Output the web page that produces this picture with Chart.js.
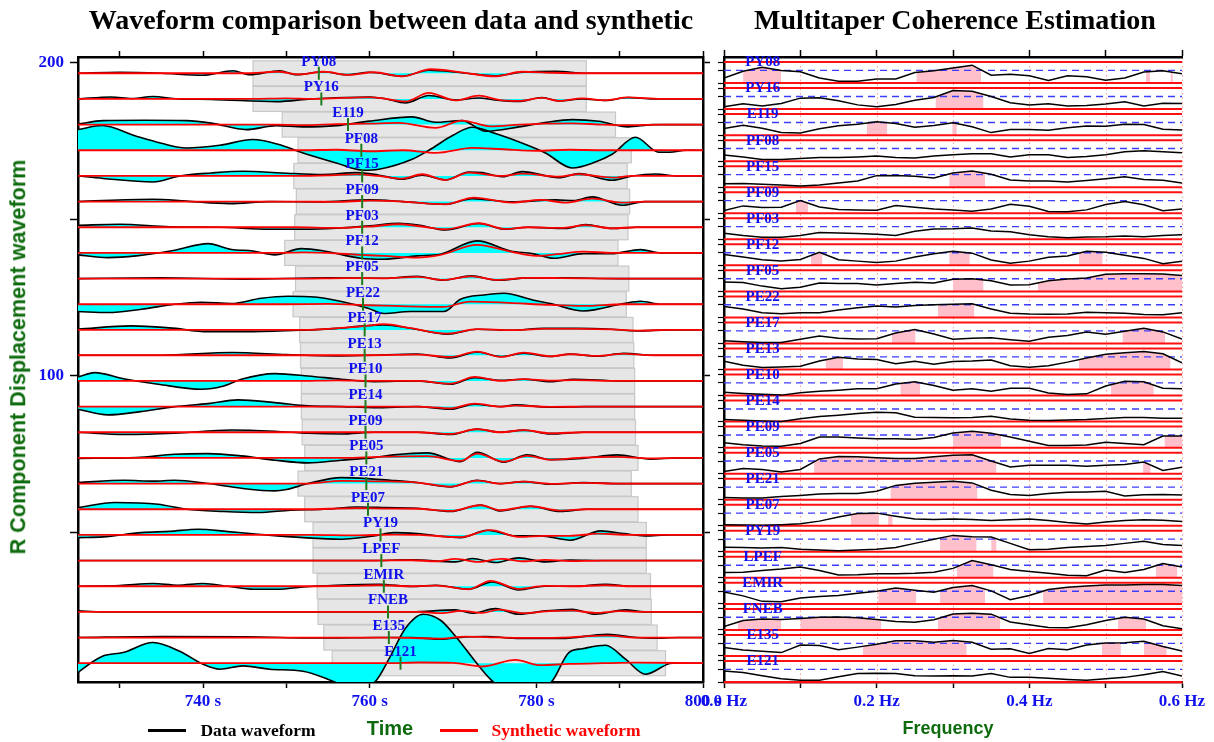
<!DOCTYPE html>
<html><head><meta charset="utf-8">
<script src="https://cdn.jsdelivr.net/npm/chart.js@4.4.1/dist/chart.umd.min.js"></script>
<style>
html,body{margin:0;padding:0;background:#fff;width:1214px;height:742px;overflow:hidden;position:relative}
canvas{position:absolute;left:0;top:0}
.t{position:absolute;white-space:nowrap;line-height:1;transform:translate(-50%,-50%)}
.serif{font-family:"Liberation Serif",serif;font-weight:bold}
.sans{font-family:"Liberation Sans",sans-serif;font-weight:bold}
.lg{position:absolute;height:0}
</style></head><body>
<canvas id="cL" width="1214" height="742"></canvas>
<canvas id="cR" width="1214" height="742"></canvas>
<div class="t serif" style="left:391px;top:20px;font-size:28px;color:#000">Waveform comparison between data and synthetic</div>
<div class="t serif" style="left:955px;top:20px;font-size:28px;color:#000">Multitaper Coherence Estimation</div>
<div class="t sans" style="left:390px;top:728px;font-size:20px;color:#0d6b0d">Time</div>
<div class="t sans" style="left:948px;top:728px;font-size:18px;color:#0d6b0d">Frequency</div>
<div class="t sans" style="left:18px;top:357px;font-size:21.6px;color:#0d6b0d;transform:translate(-50%,-50%) rotate(-90deg)">R Component Displacement waveform</div>
<div class="lg" style="left:148px;top:729px;width:38px;border-top:3px solid #000"></div>
<div class="t serif" style="left:258px;top:731px;font-size:17.5px;color:#000">Data waveform</div>
<div class="lg" style="left:440px;top:729px;width:38px;border-top:3px solid #f00"></div>
<div class="t serif" style="left:566px;top:731px;font-size:17.5px;color:#f00">Synthetic waveform</div>
<script>
// ---------------- DATA ----------------
const stations = ['PY08','PY16','E119','PF08','PF15','PF09','PF03','PF12','PF05','PE22','PE17','PE13','PE10','PE14','PE09','PE05','PE21','PE07','PY19','LPEF','EMIR','FNEB','E135','E121'];
const baselines = [196.7,188.5,180.3,172.1,163.9,155.7,147.5,139.3,131.1,122.9,114.7,106.6,98.4,90.2,82.0,73.8,65.6,57.4,49.2,41.0,32.8,24.6,16.4,8.2];
const windowStart = [746.0,746.0,749.5,751.4,750.9,751.2,751.0,749.8,751.1,750.8,751.6,751.7,751.8,751.8,751.9,752.2,751.4,752.2,753.2,753.2,753.7,753.8,754.5,755.5];
const pickTime = [753.9,754.2,757.4,759.0,759.1,759.1,759.1,759.1,759.1,759.2,759.4,759.4,759.5,759.5,759.5,759.6,759.6,759.8,761.3,761.4,761.7,762.2,762.3,763.7];
const windowLength = 40;
const timeTicks = [730,740,750,760,770,780,790,800];
const timeLabels = [740,760,780,800];
const yTickValues = [50,100,150,200];
const yTickLabels = [100,200];
const freqTicks = [0,0.1,0.2,0.3,0.4,0.5,0.6];
const freqLabels = [0,0.2,0.4,0.6];

// waveform extrema [time s, amplitude]
const wPY08 = [[725,0],[730,1],[735,0],[740,-2],[743.6,2.5],[745.6,-1.5],[749.2,2.5],[751.2,-1.5],[754.4,1.5],[757.2,-1.5],[760,1],[763.9,-3],[767.1,3],[771,0.5],[775,-2.5],[778.3,1],[782.3,2],[786,0],[800,0]];
const sPY08 = [[725,0],[745,0],[749,1.5],[751.5,-1],[754.5,1.5],[757.5,-1.5],[760.5,1],[764,-3],[767.3,4],[771,1],[775,-3],[778.3,1.5],[782,0.5],[786,0],[800,0]];
const wPY16 = [[725,0],[729,2],[731.5,0.5],[734,2.5],[737,0],[741,-0.5],[748.8,-2.7],[753,0],[757,1.5],[760,2],[762,0],[764.3,-4],[767.1,3.5],[770.3,-1],[773.1,1],[775,-1],[777.9,-2.5],[780.7,1.5],[782.7,-2],[785.5,0],[788.3,-1.5],[791,1.5],[794,0],[800,0]];
const sPY16 = [[725,0],[746,0],[750,0.5],[753,0],[757,1],[760,1.5],[762,0],[764.3,-2.5],[767.1,6],[770.3,-1.5],[773.1,3.3],[775.5,-1],[777.9,-2],[780.7,1],[782.7,-2],[785.5,0.5],[788.3,-1.3],[791,1.5],[795,0],[800,0]];
const wE119 = [[725,0.5],[728,4],[733,4.3],[738,4],[741,1.5],[745.2,-5],[748.8,-1],[752,-2.3],[756,-1],[760,3.5],[765.1,7.7],[767.9,2.3],[771.1,4],[773.9,-6.7],[777.9,-2.3],[781,2],[784.3,5],[787.5,3.3],[791,-2.3],[794,0],[800,0]];
const sE119 = [[725,0],[749,0],[752,-0.5],[756,0.5],[760,1],[763.5,1.7],[767.9,-3.3],[771.1,4],[774.5,-1.7],[778,0],[781,1],[784.3,1.3],[788,0],[791,-0.5],[795,0],[800,0]];
const wPF08 = [[725,20.7],[727.9,24.7],[732,14],[735,7],[738,2.3],[742,5],[746,10.7],[749,6],[752,-2.7],[756,-12.7],[759.2,-20],[761.1,-19],[765.1,-9],[767.1,0],[770,15],[772.3,23],[775,17],[779.1,4.5],[781.1,-2.7],[784.3,-17.7],[787,-12],[789.1,-4],[791.9,13],[794.7,-2],[796,-2],[798,0],[800,0]];
const sPF08 = [[725,0],[752,0],[756,0.5],[760,-1],[764,0],[768,-2.7],[772.3,2.3],[776,1],[780,-0.5],[784,0.5],[788,0],[800,0]];
const wPF15 = [[725,0],[728,-2.5],[734,-6],[737.2,0],[741,3],[744.8,4.7],[749.5,3],[754.4,1.5],[758.4,3.3],[761,1],[763.9,-3.3],[766.3,0.7],[769.1,-4],[771.9,4],[773.5,3.3],[775.9,-0.7],[778.3,4.3],[782.7,-1.7],[785.1,2.3],[789.1,-4.3],[791.5,0],[794.3,2],[797,0],[800,0]];
const sPF15 = [[725,0],[751,0],[755,0.5],[758.4,1.5],[761,0],[763.9,-2.7],[766.3,1.7],[769.1,-4],[771.9,3.3],[775.9,0],[778.3,2.3],[782.7,-0.7],[785.1,1.7],[789.1,-1.7],[791.5,0],[800,0]];
const wPF09 = [[725,0],[734,2.3],[738,0.5],[743.2,-2],[748,0],[754,-0.3],[760,1.7],[764,0],[769.1,-2.7],[772.3,3],[777.1,-0.3],[782.3,1.7],[784.5,1],[786.7,4.7],[790.3,-3.7],[793,0],[800,0]];
const sPF09 = [[725,0],[752,0],[756,-0.3],[760,1],[764,0],[769.1,-2.7],[772.5,4],[777.1,-1],[780.5,1.7],[783.5,-1],[786.7,3],[790.3,-1],[793,0],[800,0]];
const wPF03 = [[725,2],[730,3],[736,0.5],[742,0],[748,-2],[752,-2],[756,-1],[760,1.5],[763.5,4],[766,2],[769.1,-2.7],[773.1,3.7],[776.3,-2],[779,0],[783.5,-1.3],[785.9,2.7],[789.1,-1.3],[792,0],[800,0]];
const sPF03 = [[725,0],[751,0],[756,-0.7],[760,0.7],[763.5,3],[766,1],[769.1,-2],[773.1,4],[776.3,-1.7],[779,0],[783,-0.7],[785.9,2],[789.1,-1],[792,0],[800,0]];
const wPF12 = [[725,-2],[728.6,-4.7],[732,-3],[736.6,2.7],[740.6,9.3],[743.4,3.5],[746,2],[748.6,-2],[751.8,4.3],[754.5,2],[758.9,-5.3],[761.7,-6.3],[765.7,-3],[768.5,-1.3],[772.9,12],[776.9,2],[779.5,-0.7],[782.1,-5.3],[785.7,-0.7],[789,-0.7],[792.5,3.3],[795,0],[800,0]];
const sPF12 = [[725,0],[749,0],[752,0.5],[755,0],[758.9,-2],[761.7,-3],[765.7,-4.7],[768.5,-2],[772.9,8],[776.9,1.3],[780,-3],[782.5,-1.3],[785.7,1.3],[789,0],[800,0]];
const wPF05 = [[725,0],[735,0.7],[745,-0.5],[755,0.7],[761.7,0.3],[765.7,2.3],[768.8,-1.7],[772.2,2.7],[775.3,-1.7],[779,0.7],[783,0.7],[790,0],[800,0]];
const sPF05 = [[725,0],[752,0],[757,0.5],[761.7,0.3],[765.7,1.7],[768.8,-1.3],[772.2,2.3],[775.3,-1.3],[779,0.7],[783,0.5],[790,0],[800,0]];
const wPE22 = [[725,-7.3],[728.6,-8.3],[732.6,-5],[736.6,0],[739.8,2],[743.4,0.7],[747,6],[750.2,8],[753.4,7.3],[756.6,2.7],[759.8,-4],[761.7,-9.3],[764.9,-7.3],[768.9,-7.3],[770.9,5],[773.7,9.3],[776.1,11],[779.7,4],[781.7,0.7],[785.7,-6.7],[790.5,0.7],[792.5,3],[795,0],[800,0]];
const sPE22 = [[725,0],[750,0],[755,0.3],[759.8,-1],[763,-1.7],[768.9,-2.7],[772,2.7],[776.1,1.7],[781.7,-0.7],[785.7,-1.7],[790.5,0],[800,0]];
const wPE17 = [[725,0.7],[731.4,4],[736,2],[740.6,-1.7],[746,-1.7],[752,-0.3],[756,1.5],[759.3,4],[761.7,5],[764.9,1.7],[769.3,-4.3],[772.9,0.7],[777,-0.3],[780.9,1.7],[785,1.7],[789,0.7],[792.1,-1],[796,0],[800,0]];
const sPE17 = [[725,0],[752,0],[756,1.5],[759.3,3.7],[761.7,5.7],[764.9,1.7],[769.3,-3.7],[772.9,0.7],[777,-0.3],[780.9,1],[785,1],[789,0.5],[792.1,-0.7],[796,0],[800,0]];
const wPE13 = [[725,0],[735,0],[743.5,2.7],[750,0.7],[756,-0.7],[760,0],[765.7,1.3],[769.7,-2.7],[772.9,3.3],[775.7,-1.3],[778.5,2],[781.7,-1.3],[784.1,1.3],[787.3,-1],[790.5,2],[794,0],[800,0]];
const sPE13 = [[725,0],[752,0],[760,0],[765.7,0.7],[769.7,-1.7],[772.9,3.7],[775.7,-1.7],[778.5,2.7],[781.7,-1],[784.1,1],[787.3,-0.7],[790.5,1.3],[794,0],[800,0]];
const wPE10 = [[725,4],[727,8.3],[730.6,2],[734.6,-3.3],[739.8,-8.3],[742.5,-5],[744.6,1.7],[748.6,7.3],[752.6,5],[756.6,1.7],[760.5,-0.7],[765.7,0],[769.7,-3.3],[772.6,3.3],[775.7,0.7],[778.5,1.7],[781.7,-0.7],[784.5,1.7],[790,0],[800,0]];
const sPE10 = [[725,0],[752,0],[756,0.5],[760.5,0],[765.7,0],[769.7,-2.7],[772.6,4],[775.7,0],[778.5,1.7],[781.7,0.3],[784.5,0.7],[790,0],[800,0]];
const wPE14 = [[725,-2.7],[728.6,-8.3],[732.5,-5],[736.6,0],[740.6,3],[744.2,6.7],[748.6,4],[752.6,0.7],[756.6,0],[760.5,-1],[765.7,0],[769.7,-2.7],[772.6,2.3],[775.7,0],[777.5,1.7],[781.7,-0.7],[786,0],[800,0]];
const sPE14 = [[725,0],[752,0],[760,0],[765.7,0],[769.7,-1.7],[772.6,3],[775.7,0],[777.5,1],[781.7,-0.3],[786,0],[800,0]];
const wPE09 = [[725,0],[730.6,-2.3],[736.6,-1],[743.4,2.3],[748.6,1],[752.6,-1],[756.6,-1.7],[760.5,0],[765.7,0],[769.7,-2.3],[772.9,3.3],[775.7,0],[778.5,2.3],[781.7,-1.7],[785.7,0],[800,0]];
const sPE09 = [[725,0],[752,0],[760,0],[765.7,0],[769.7,-1.7],[772.9,3],[775.7,0],[778.5,2],[781.7,-1],[785.7,0],[800,0]];
const wPE05 = [[725,-0.5],[732,0.3],[736.6,3.7],[740.6,4.3],[744.6,2],[748.6,-2.3],[752.6,-5],[756.6,-2.3],[760.5,0.3],[762.9,3],[766.9,5],[770.9,-3.7],[772.9,5.7],[776.1,-4.3],[778.9,3],[781.7,-1.7],[785.5,-0.5],[789.7,3],[793.7,-1.3],[797,0],[800,0]];
const sPE05 = [[725,0],[753,0],[757,0],[761,1],[766.9,1.7],[770.9,-3],[772.9,4.3],[776.1,-3.7],[778.9,2],[781.7,-1.7],[785.5,0.3],[789.7,1],[793.7,-0.5],[797,0],[800,0]];
const wPE21 = [[725,1],[730.6,3.3],[734,2.5],[736.6,3.3],[740.6,0],[744.6,-4.7],[748.6,-7.3],[750,-6],[752.6,0],[756.6,6],[760.5,4.5],[762.5,3.3],[765.7,1],[769.7,-3.3],[772.9,3.3],[775.7,0],[778.5,2],[781.7,-0.7],[785.7,1],[790,0],[800,0]];
const sPE21 = [[725,0],[751,0],[753,0.3],[756.6,2.7],[760.5,2.3],[765.7,1],[769.7,-3],[772.9,3],[775.7,0],[778.5,2],[781.7,-0.3],[785.7,0.7],[790,0],[800,0]];
const wPE07 = [[725,1.7],[729.4,6.7],[734.6,5],[738,0],[742.5,-2.3],[746.6,-3.3],[750.5,-1],[754.5,0],[758.5,2.3],[762,1.7],[765.7,1],[769.7,-2.3],[773.3,4.3],[775.7,-1.7],[779.3,3],[782.9,-2.3],[786,0],[800,0]];
const sPE07 = [[725,0],[752,0],[758.5,1],[762,0.7],[765.7,0.5],[769.7,-1.7],[773.3,4],[775.7,-1],[779.3,3],[782.9,-1.3],[786,0],[800,0]];
const wPY19 = [[725,-2.7],[728,-2],[732.6,2.3],[736,3.5],[739.4,5.7],[743,3.3],[746.6,0.7],[752,-2.7],[756.6,-4.3],[760.5,-1],[762.9,2.3],[765.7,1.3],[770.9,-2.7],[774.1,4.7],[777.5,-1],[780.5,-1],[784.1,-5.3],[787.7,4],[790.5,1.3],[793,-1],[796,0],[800,0]];
const sPY19 = [[725,0],[753,0],[758,-0.5],[762.9,0.3],[766,0],[770.9,-2.3],[774.5,4.7],[778,-2],[781,-1],[784,-1],[787.5,1.3],[791,0],[800,0]];
const wLPEF = [[725,0],[760,0],[765,0.7],[770.3,-1.3],[772.3,2],[775.1,-2],[777.9,2.7],[781.1,-1.3],[784,0.5],[788,0],[800,0]];
const sLPEF = [[725,0],[760,0],[765,0.3],[768,-0.7],[770.3,1.7],[773,-1.3],[775.8,1.7],[778.5,-0.7],[781.1,0.7],[784,-0.5],[788,0],[800,0]];
const wEMIR = [[725,0],[730,0.7],[734,2.7],[737,1],[740,2.7],[743,0],[746,-3],[749,-3],[752,-0.7],[756,1],[761.1,2],[765.1,-0.3],[768,1],[771.9,-3],[774.7,4.3],[777.9,-3.7],[781,0],[784.5,0],[788.3,2],[791.5,0],[800,0]];
const sEMIR = [[725,0],[754,0],[758,0.3],[761.1,1],[765.1,0],[768,0.7],[771.9,-3],[774.5,5.3],[777.9,-2.7],[781,0.3],[784.5,0],[788.3,1],[791.5,0],[800,0]];
const wFNEB = [[725,1],[728,0],[740,0],[760,0],[765,0],[770.3,2],[772.3,-1.3],[775.1,3.3],[777.9,-2.3],[781.1,1],[784.3,2.7],[787.1,-2.3],[790.7,2],[793,0],[800,0]];
const sFNEB = [[725,0],[760,0],[766,0],[768.5,-1.3],[771,1],[773.5,-1],[775.5,2.3],[778.5,-1.3],[781.5,0.7],[784.3,1.3],[787.1,-1],[790,0.7],[793,0],[800,0]];
const wE135 = [[725,0],[735,1],[745,0.7],[755,-0.5],[761,0],[765,0],[768.5,-1.7],[771.5,0.7],[774,1],[778,-1],[783,-1],[788.5,3.3],[792,0],[794,-0.7],[797,0],[800,0]];
const sE135 = [[725,0],[756,0],[763,0],[766,-0.7],[768.5,-1],[771.5,1],[774,0.5],[778,-0.3],[783,0],[788.5,2],[792,0],[800,0]];
const wE121 = [[725,-9.3],[726.5,0],[728,7.3],[730.4,10.7],[734,20.7],[737.2,12],[740,-1],[742,-6],[744.8,-2.7],[748,-6],[752,-8],[755.5,-17.7],[758,-26],[760.7,-18],[762.3,4],[764.3,35],[766.4,49],[768.5,43],[770.3,27],[773.1,-2.7],[774.7,-17.7],[778.2,-35],[781.9,-17.7],[783.9,10.7],[785.5,14.5],[788.3,18],[790.7,4],[793.1,-11],[796.3,0],[800,0]];
const sE121 = [[725,0],[762,0],[766,0.7],[770,0.3],[773.5,-3.3],[777.5,3.3],[780.5,-2],[784,-0.7],[788,0],[792,0.5],[800,0]];

// coherence on a 0.025 Hz grid
const freqs = [0,0.025,0.05,0.075,0.1,0.125,0.15,0.175,0.2,0.225,0.25,0.275,0.3,0.325,0.35,0.375,0.4,0.425,0.45,0.475,0.5,0.525,0.55,0.575,0.6];
const cPY08 = [.24,.56,.75,.6,.54,.24,.08,.08,.19,.19,.5,.59,.72,.85,.37,.42,.35,.12,.35,.3,.13,.24,.52,.58,.44];
const cPY16 = [.11,.25,.15,.27,.52,.54,.4,.2,.11,.22,.42,.55,.88,.85,.6,.3,.2,.25,.15,.17,.24,.35,.15,.28,.27];
const cE119 = [.32,.47,.33,.12,.1,.3,.45,.52,.64,.55,.38,.46,.59,.4,.12,.27,.27,.23,.35,.43,.42,.52,.5,.28,.24];
const cPF08 = [.29,.2,.08,.08,.13,.17,.17,.2,.25,.17,.15,.24,.3,.35,.35,.2,.3,.3,.18,.22,.3,.45,.5,.45,.4];
const cPF15 = [.16,.18,.14,.1,.06,.1,.2,.3,.55,.56,.52,.44,.68,.77,.62,.34,.3,.29,.25,.32,.4,.5,.37,.33,.2];
const cPF09 = [.13,.35,.27,.29,.6,.3,.18,.16,.14,.37,.29,.2,.16,.1,.2,.43,.33,.08,.07,.16,.42,.56,.4,.12,.2];
const cPF03 = [.29,.18,.1,.1,.18,.32,.3,.28,.24,.18,.38,.49,.5,.54,.4,.36,.22,.12,.07,.11,.12,.16,.12,.18,.22];
const cPF12 = [.51,.4,.26,.21,.28,.62,.27,.2,.13,.2,.4,.55,.67,.58,.25,.1,.2,.38,.44,.67,.62,.48,.33,.08,.19];
const cPF05 = [.44,.42,.25,.13,.2,.4,.38,.37,.3,.38,.43,.4,.58,.6,.5,.3,.32,.5,.59,.64,.81,.84,.84,.83,.76];
const cPE22 = [.52,.4,.22,.17,.22,.22,.35,.46,.54,.5,.57,.6,.63,.65,.4,.2,.16,.15,.16,.25,.22,.2,.14,.13,.22];
const cPE17 = [.13,.08,.05,.05,.2,.35,.25,.21,.22,.5,.66,.45,.2,.25,.27,.18,.1,.3,.38,.54,.44,.58,.72,.55,.21];
const cPE13 = [.39,.2,.1,.12,.15,.4,.58,.5,.48,.27,.39,.25,.38,.4,.45,.18,.11,.18,.35,.55,.72,.8,.85,.75,.32];
const cPE10 = [.16,.1,.06,.02,.13,.2,.25,.32,.32,.55,.66,.48,.25,.32,.2,.35,.35,.12,.05,.08,.45,.68,.65,.35,.32];
const cPE14 = [.1,.06,.03,0,.13,.24,.3,.38,.44,.42,.21,.19,.18,.2,.25,.12,.06,.05,.08,.1,.15,.2,.2,.16,.16];
const cPE09 = [.23,.14,.08,.06,.2,.5,.5,.46,.42,.42,.4,.48,.7,.78,.68,.5,.3,.1,.1,.13,.25,.2,.14,.55,.55];
const cPE05 = [.1,.25,.2,.08,.2,.7,.82,.8,.76,.72,.72,.8,.88,.9,.6,.32,.4,.4,.4,.35,.4,.44,.55,.15,.3];
const cPE21 = [.11,.08,.08,.15,.2,.27,.3,.3,.4,.68,.78,.83,.88,.8,.45,.25,.2,.3,.35,.37,.4,.18,.23,.25,.22];
const cPE07 = [.05,.03,.02,.05,.1,.22,.42,.58,.6,.45,.32,.3,.32,.3,.25,.28,.32,.25,.15,.08,.18,.25,.28,.26,.2];
const cPY19 = [.22,.2,.18,.2,.12,.08,.05,.08,.12,.2,.4,.6,.78,.72,.7,.4,.1,.12,.2,.25,.3,.4,.5,.35,.3];
const cLPEF = [.25,.27,.35,.42,.52,.35,.13,.15,.2,.2,.22,.27,.45,.82,.62,.4,.3,.22,.12,.1,.37,.25,.4,.68,.52];
const cEMIR = [.56,.38,.12,.1,.28,.35,.4,.5,.6,.75,.65,.55,.78,.87,.62,.2,.4,.68,.79,.85,.9,.9,.92,.92,.87];
const cFNEB = [.16,.45,.52,.5,.54,.6,.62,.58,.5,.4,.37,.48,.76,.79,.75,.38,.25,.12,.1,.25,.45,.6,.52,.2,.05];
const cE135 = [.4,.28,.22,.16,.52,.5,.3,.42,.56,.72,.72,.65,.74,.65,.32,.34,.12,.35,.3,.52,.62,.63,.7,.45,.24];
const cE121 = [.52,.45,.3,.15,.08,.08,.25,.4,.42,.4,.3,.28,.3,.28,.4,.22,.22,.18,.12,.08,.15,.22,.35,.5,.28];

// high-coherence frequency bands (pink)
const pPY08 = [[0.025,0.075],[0.252,0.337],[0.553,0.558],[0.585,0.588]];
const pPY16 = [[0.277,0.34]];
const pE119 = [[0.187,0.214],[0.299,0.305]];
const pPF08 = [];
const pPF15 = [[0.295,0.342]];
const pPF09 = [[0.094,0.11]];
const pPF03 = [];
const pPF12 = [[0.114,0.129],[0.295,0.322],[0.465,0.496]];
const pPF05 = [[0.3,0.34],[0.411,0.6]];
const pPE22 = [[0.28,0.328]];
const pPE17 = [[0.22,0.251],[0.522,0.578]];
const pPE13 = [[0.133,0.156],[0.465,0.585]];
const pPE10 = [[0.231,0.257],[0.507,0.563]];
const pPE14 = [];
const pPE09 = [[0.3,0.363],[0.577,0.6]];
const pPE05 = [[0.118,0.357],[0.549,0.559]];
const pPE21 = [[0.218,0.332]];
const pPE07 = [[0.166,0.203],[0.215,0.221]];
const pPY19 = [[0.283,0.331],[0.35,0.357]];
const pLPEF = [[0.305,0.353],[0.566,0.594]];
const pEMIR = [[0.202,0.252],[0.283,0.342],[0.418,0.6]];
const pFNEB = [[0.018,0.075],[0.1,0.206],[0.28,0.362],[0.516,0.553]];
const pE135 = [[0.182,0.318],[0.495,0.52],[0.55,0.58]];
const pE121 = [];
const coherenceThreshold = 0.6;

// ---------------- ASSEMBLY ----------------
const dataWaves = [wPY08,wPY16,wE119,wPF08,wPF15,wPF09,wPF03,wPF12,wPF05,wPE22,wPE17,wPE13,wPE10,wPE14,wPE09,wPE05,wPE21,wPE07,wPY19,wLPEF,wEMIR,wFNEB,wE135,wE121];
const synthWaves = [sPY08,sPY16,sE119,sPF08,sPF15,sPF09,sPF03,sPF12,sPF05,sPE22,sPE17,sPE13,sPE10,sPE14,sPE09,sPE05,sPE21,sPE07,sPY19,sLPEF,sEMIR,sFNEB,sE135,sE121];
const cohs = [cPY08,cPY16,cE119,cPF08,cPF15,cPF09,cPF03,cPF12,cPF05,cPE22,cPE17,cPE13,cPE10,cPE14,cPE09,cPE05,cPE21,cPE07,cPY19,cLPEF,cEMIR,cFNEB,cE135,cE121];
const pinks = [pPY08,pPY16,pE119,pPF08,pPF15,pPF09,pPF03,pPF12,pPF05,pPE22,pPE17,pPE13,pPE10,pPE14,pPE09,pPE05,pPE21,pPE07,pPY19,pLPEF,pEMIR,pFNEB,pE135,pE121];

const GAIN = 1/3.13;     // trace amplitude -> axis units
const BOX_HALF = 4.0;    // half height of window box (axis units)
const BLUE = '#1010ee';
const labelFont = 'bold 15px "Liberation Serif"';

const leftDatasets = [];
stations.forEach((s,i)=>{
  const b = baselines[i];
  leftDatasets.push({label:s+' data', data: dataWaves[i].map(p=>({x:p[0], y:b+p[1]*GAIN})),
    borderColor:'#000', borderWidth:1.6, backgroundColor:'#00ffff', fill:{value:b},
    pointRadius:0, cubicInterpolationMode:'monotone', order:2});
  leftDatasets.push({label:s+' synthetic', data: synthWaves[i].map(p=>({x:p[0], y:b+p[1]*GAIN})),
    borderColor:'#ff0000', borderWidth:1.8, fill:false,
    pointRadius:0, cubicInterpolationMode:'monotone', order:1});
});

const tickFont = {family:'Liberation Serif', weight:'bold', size:17};

const leftDeco = {
  id:'leftDeco',
  beforeDraw(chart){
    const {ctx, chartArea:a, scales:{x, y}} = chart;
    ctx.save();
    ctx.beginPath(); ctx.rect(a.left, a.top, a.right-a.left, a.bottom-a.top); ctx.clip();
    stations.forEach((s,i)=>{
      const x0 = x.getPixelForValue(windowStart[i]), x1 = x.getPixelForValue(windowStart[i]+windowLength);
      const y0 = y.getPixelForValue(baselines[i]+BOX_HALF), y1 = y.getPixelForValue(baselines[i]-BOX_HALF);
      ctx.fillStyle = '#e6e6e6'; ctx.fillRect(x0, y0, x1-x0, y1-y0);
      ctx.strokeStyle = '#c8c8c8'; ctx.lineWidth = 1.2; ctx.strokeRect(x0, y0, x1-x0, y1-y0);
    });
    ctx.restore();
  },
  afterDatasetsDraw(chart){
    const {ctx, scales:{x, y}} = chart;
    ctx.save();
    stations.forEach((s,i)=>{
      const px = x.getPixelForValue(pickTime[i]);
      const py = y.getPixelForValue(baselines[i]);
      ctx.strokeStyle = '#1e7b1e'; ctx.lineWidth = 2;
      ctx.beginPath(); ctx.moveTo(px, py-6.5); ctx.lineTo(px, py+6.5); ctx.stroke();
      ctx.font = labelFont; ctx.fillStyle = BLUE; ctx.textAlign = 'center'; ctx.textBaseline = 'middle';
      ctx.fillText(s, px, py-11.5);
    });
    ctx.restore();
  }
};

new Chart(document.getElementById('cL'), {
  type:'line',
  data:{datasets:leftDatasets},
  options:{
    responsive:false, animation:false, events:[],
    layout:{padding:{left:0, right:501, top:0, bottom:0}},
    plugins:{legend:{display:false}, tooltip:{enabled:false}, filler:{drawTime:'beforeDatasetsDraw'}},
    scales:{
      x:{type:'linear', position:'bottom', min:725, max:800,
        afterBuildTicks:sc=>{sc.ticks = timeTicks.map(v=>({value:v}));},
        ticks:{autoSkip:false, maxRotation:0, font:tickFont, color:BLUE, padding:3,
          callback:v=> timeLabels.includes(v) ? v+' s' : ''},
        grid:{drawOnChartArea:false, drawTicks:true, tickLength:6, color:'#000', tickWidth:1.5},
        border:{color:'#000', width:2.5},
        afterFit:sc=>{sc.height=60;}},
      xTop:{type:'linear', position:'top', min:725, max:800,
        afterBuildTicks:sc=>{sc.ticks = timeTicks.map(v=>({value:v}));},
        ticks:{display:false},
        grid:{drawOnChartArea:false, drawTicks:true, tickLength:6, color:'#000', tickWidth:1.5},
        border:{color:'#000', width:2.5},
        afterFit:sc=>{sc.height=57;}},
      y:{type:'linear', position:'left', min:2.2, max:201.9,
        afterBuildTicks:sc=>{sc.ticks = yTickValues.map(v=>({value:v}));},
        ticks:{autoSkip:false, font:tickFont, color:BLUE, padding:6,
          callback:v=> yTickLabels.includes(v) ? String(v) : ''},
        grid:{drawOnChartArea:false, drawTicks:true, tickLength:8, color:'#000', tickWidth:1.5},
        border:{color:'#000', width:2.5},
        afterFit:sc=>{sc.width=78;}},
      yRight:{type:'linear', position:'right', min:2.2, max:201.9,
        afterBuildTicks:sc=>{sc.ticks = yTickValues.map(v=>({value:v}));},
        ticks:{display:false},
        grid:{drawOnChartArea:false, drawTicks:true, tickLength:7, color:'#000', tickWidth:1.5},
        border:{color:'#000', width:2.5},
        afterFit:sc=>{sc.width=10;}}
    }
  },
  plugins:[leftDeco]
});

// ---------------- RIGHT PANEL ----------------
const K = 21/26;   // coherence 0..1 spans 21 of each 26-px row
function interp(arr, f){
  for(let j=0;j<freqs.length-1;j++){
    if(f>=freqs[j] && f<=freqs[j+1]){
      const t=(f-freqs[j])/(freqs[j+1]-freqs[j]);
      return arr[j]+(arr[j+1]-arr[j])*t;
    }
  }
  return arr[arr.length-1];
}
const rightDatasets = [];
stations.forEach((s,i)=>{
  const base = stations.length-1-i;
  const coh = cohs[i];
  pinks[i].forEach(([f1,f2])=>{
    const pts=[{x:f1, y:base+K*interp(coh,f1)}];
    freqs.forEach((f,j)=>{ if(f>f1 && f<f2) pts.push({x:f, y:base+K*coh[j]}); });
    pts.push({x:f2, y:base+K*interp(coh,f2)});
    rightDatasets.push({data:pts, borderColor:'rgba(0,0,0,0)', borderWidth:0.01, backgroundColor:'#ffc0cb',
      fill:{value:base}, pointRadius:0, tension:0, order:3});
  });
  rightDatasets.push({data:freqs.map((f,j)=>({x:f, y:base+K*coh[j]})), borderColor:'#000', borderWidth:1.5,
    fill:false, pointRadius:0, tension:0, order:1});
});
const rowTicks = [];
stations.forEach((s,i)=>{ const base = stations.length-1-i; rowTicks.push(base, base+K*coherenceThreshold, base+K); });

const rightDeco = {
  id:'rightDeco',
  beforeDraw(chart){
    const {ctx, chartArea:a, scales:{x}} = chart;
    ctx.save();
    ctx.strokeStyle = '#ff9c9c'; ctx.lineWidth = 1; ctx.setLineDash([1.5,3]);
    freqTicks.forEach(f=>{ if(f===0) return; const px = Math.round(x.getPixelForValue(f))+0.5;
      ctx.beginPath(); ctx.moveTo(px, a.top); ctx.lineTo(px, a.bottom); ctx.stroke(); });
    ctx.restore();
  },
  beforeDatasetsDraw(chart){
    const {ctx, chartArea:a, scales:{y}} = chart;
    ctx.save();
    stations.forEach((s,i)=>{
      const base = stations.length-1-i;
      ctx.setLineDash([]); ctx.strokeStyle = '#ff1010'; ctx.lineWidth = 2;
      [base, base+K].forEach(v=>{ const py=y.getPixelForValue(v); ctx.beginPath(); ctx.moveTo(a.left,py); ctx.lineTo(a.right,py); ctx.stroke(); });
      ctx.setLineDash([7,5]); ctx.strokeStyle = '#3c3cff'; ctx.lineWidth = 1.4;
      const pd = y.getPixelForValue(base+K*coherenceThreshold);
      ctx.beginPath(); ctx.moveTo(a.left,pd); ctx.lineTo(a.right,pd); ctx.stroke();
    });
    ctx.restore();
  },
  afterDatasetsDraw(chart){
    const {ctx, scales:{x, y}} = chart;
    ctx.save();
    ctx.font = labelFont; ctx.fillStyle = BLUE; ctx.textAlign='center'; ctx.textBaseline='middle';
    stations.forEach((s,i)=>{
      const base = stations.length-1-i;
      ctx.fillText(s, x.getPixelForValue(0.0507), y.getPixelForValue(base+K)+0.5);
    });
    ctx.restore();
  }
};

new Chart(document.getElementById('cR'), {
  type:'line',
  data:{datasets:rightDatasets},
  options:{
    responsive:false, animation:false, events:[],
    layout:{padding:{left:712, right:32, top:0, bottom:0}},
    plugins:{legend:{display:false}, tooltip:{enabled:false}, filler:{drawTime:'beforeDatasetsDraw'}},
    scales:{
      x:{type:'linear', position:'bottom', min:0, max:0.6,
        afterBuildTicks:sc=>{sc.ticks = freqTicks.map(v=>({value:v}));},
        ticks:{autoSkip:false, maxRotation:0, font:tickFont, color:BLUE, padding:3,
          callback:v=> freqLabels.some(l=>Math.abs(l-v)<1e-9) ? v.toFixed(1)+' Hz' : ''},
        grid:{drawOnChartArea:false, drawTicks:true, tickLength:6, color:'#000', tickWidth:1.5},
        border:{color:'#a00000', width:2.5},
        afterFit:sc=>{sc.height=60;}},
      xTop:{type:'linear', position:'top', min:0, max:0.6,
        afterBuildTicks:sc=>{sc.ticks = freqTicks.map(v=>({value:v}));},
        ticks:{display:false},
        grid:{drawOnChartArea:false, drawTicks:true, tickLength:7, color:'#000', tickWidth:1.5},
        border:{color:'#000', width:2.5},
        afterFit:sc=>{sc.height=57;}},
      y:{type:'linear', position:'left', min:0, max:24,
        afterBuildTicks:sc=>{sc.ticks = rowTicks.map(v=>({value:v}));},
        ticks:{display:false},
        grid:{drawOnChartArea:false, drawTicks:true, tickLength:6, color:'#000', tickWidth:1.2},
        border:{color:'#000', width:2.5},
        afterFit:sc=>{sc.width=12;}}
    }
  },
  plugins:[rightDeco]
});
</script>
</body></html>
